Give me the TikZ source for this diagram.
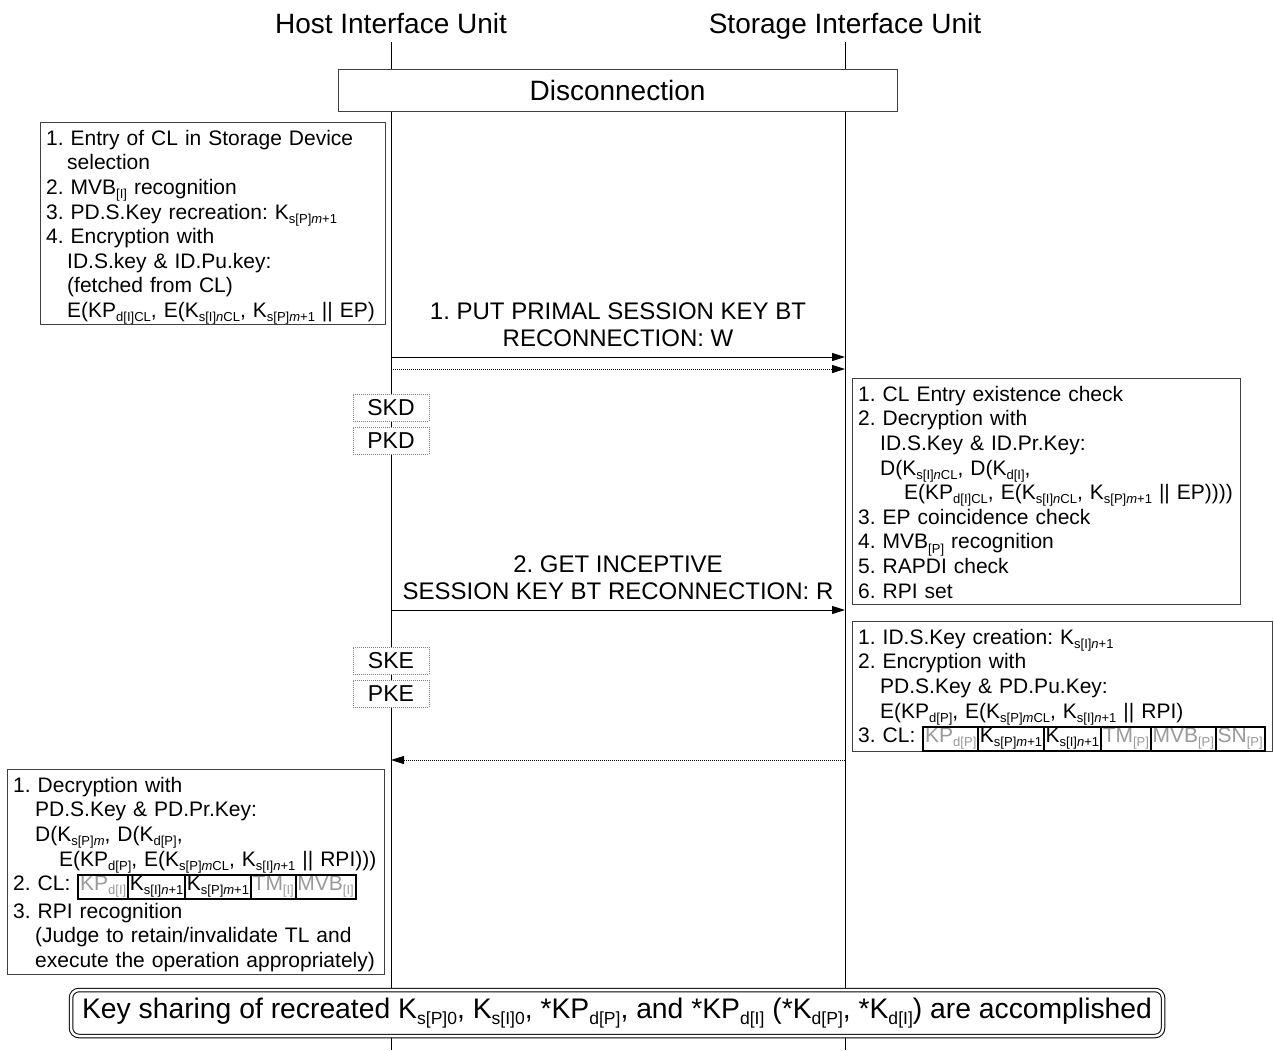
\documentclass[tikz,border=0pt]{standalone}
\usepackage{fontspec}
\setmainfont{Liberation Sans}
\usepackage{xcolor}
\definecolor{seqBorder}{HTML}{404040}
\definecolor{seqGray}{HTML}{9A9A9A}
\definecolor{seqDash}{HTML}{808080}
\usetikzlibrary{arrows.meta,positioning,calc}
\frenchspacing

\makeatletter
\newcommand{\sbs}[1]{{\@tempdima=0.62\dimexpr\f@size pt\relax
    \raisebox{-0.2em}{\fontsize{\strip@pt\@tempdima}{0}\selectfont #1}}}
\makeatother
\newcommand{\clcell}[1]{{\setlength{\fboxsep}{0pt}\setlength{\fboxrule}{2pt}%
    \fbox{\rule[-5pt]{0pt}{20pt}\hspace{0.8pt}#1\hspace{0.8pt}}}\hspace{-2pt}}
\newcommand{\gry}[1]{\textcolor{seqGray}{#1}}
\newcommand{\topln}{\rule{0pt}{23pt}}
\newcommand{\botln}{\rule[-6.5pt]{0pt}{6.5pt}}

\tikzset{
    unit/.style={
        font=\fontsize{28}{31}\selectfont,
        anchor=base,
        inner sep=0pt
    },
    phase/.style={
        draw=seqBorder,
        fill=white,
        minimum width=559pt,
        minimum height=42pt,
        font=\fontsize{28}{31}\selectfont
    },
    procbox/.style={
        draw=seqBorder,
        fill=white,
        align=left,
        anchor=north west,
        inner xsep=6pt,
        inner ysep=0pt,
        font=\fontsize{21}{24.6}\selectfont
    },
    keybox/.style={
        draw=seqDash,
        dash pattern=on 1pt off 1pt,
        fill=white,
        minimum width=76pt,
        minimum height=27pt,
        inner sep=0pt,
        font=\fontsize{23}{26}\selectfont
    },
    msg/.style={
        -{Triangle[length=13pt,width=8pt]},
        line width=1pt
    },
    msgdot/.style={
        msg,
        dash pattern=on 1pt off 1pt
    },
    msglabel/.style={
        align=center,
        inner sep=0pt,
        font=\fontsize{24}{27}\selectfont
    },
    result/.style={
        draw,
        double,
        double distance=2.5pt,
        line width=1pt,
        rounded corners=8pt,
        fill=white,
        minimum width=1092pt,
        minimum height=46pt,
        font=\fontsize{28.3}{31}\selectfont
    },
    lifeline/.style={
        line width=0.8pt
    }
}

\begin{document}
\begin{tikzpicture}[x=1pt, y=-1pt]
    \useasboundingbox (0,0) rectangle (1274,1050);

    % Units and lifelines
    \node[unit] (host) at (391,33) {Host Interface Unit};
    \node[unit] (stor) at (845,33) {Storage Interface Unit};
    \coordinate (hostTop) at (391,42);
    \coordinate (hostEnd) at (391,1050);
    \coordinate (storTop) at (845,42);
    \coordinate (storEnd) at (845,1050);
    \draw[lifeline] (hostTop) -- (hostEnd);
    \draw[lifeline] (storTop) -- (storEnd);

    % Phase
    \node[phase] (disc) at (617.5,90) {Disconnection};

    % Host side - before message 1
    \node[procbox, text width=333pt] (hostA) at (40,122) {%
        \topln 1. Entry of CL in Storage Device\\
        \hspace*{21pt}selection\\
        2. MVB\sbs{[I]} recognition\\
        3. PD.S.Key recreation: K\sbs{s[P]\textit{m}+1}\\
        4. Encryption with\\
        \hspace*{21pt}ID.S.key \& ID.Pu.key:\\
        \hspace*{21pt}(fetched from CL)\\
        \hspace*{21pt}\mbox{E(KP\sbs{d[I]CL}, E(K\sbs{s[I]\textit{n}CL}, K\sbs{s[P]\textit{m}+1} || EP)}\botln};

    % Message 1
    \node[msglabel] (lab1) at (618,325) {1. PUT PRIMAL SESSION KEY BT\\RECONNECTION: W};
    \coordinate (h1) at (391,357);
    \coordinate (s1) at (845,357);
    \coordinate (h1d) at (391,369);
    \coordinate (s1d) at (845,369);
    \draw[msg] (h1) -- (s1);
    \draw[msgdot] (h1d) -- (s1d);

    % Key blocks - decryption
    \node[keybox] (skd) at (391,407.5) {SKD};
    \node[keybox, below=6pt of skd] (pkd) {PKD};

    % Storage side - after message 1
    \node[procbox, text width=376pt] (storA) at (852,378) {%
        \topln 1. CL Entry existence check\\
        2. Decryption with\\
        \hspace*{22pt}ID.S.Key \& ID.Pr.Key:\\
        \hspace*{22pt}D(K\sbs{s[I]\textit{n}CL}, D(K\sbs{d[I]},\\
        \hspace*{46pt}\mbox{E(KP\sbs{d[I]CL}, E(K\sbs{s[I]\textit{n}CL}, K\sbs{s[P]\textit{m}+1} || EP))))}\\
        3. EP coincidence check\\
        4. MVB\sbs{[P]} recognition\\
        5. RAPDI check\\
        6. RPI set\botln};

    % Message 2
    \node[msglabel] (lab2) at (618,577.5) {2. GET INCEPTIVE\\SESSION KEY BT RECONNECTION: R};
    \coordinate (h2) at (391,610);
    \coordinate (s2) at (845,610);
    \draw[msg] (h2) -- (s2);

    % Key blocks - encryption
    \node[keybox] (ske) at (391,660.5) {SKE};
    \node[keybox, below=6pt of ske] (pke) {PKE};

    % Storage side - after message 2
    \node[procbox, text width=408pt] (storB) at (852,621) {%
        \topln 1. ID.S.Key creation: K\sbs{s[I]\textit{n}+1}\\
        2. Encryption with\\
        \hspace*{22pt}PD.S.Key \& PD.Pu.Key:\\
        \hspace*{22pt}\mbox{E(KP\sbs{d[P]}, E(K\sbs{s[P]\textit{m}CL}, K\sbs{s[I]\textit{n}+1} || RPI)}\\
        \mbox{3. CL: \clcell{\gry{KP\sbs{d[P]}}}\clcell{K\sbs{s[P]\textit{m}+1}}\clcell{K\sbs{s[I]\textit{n}+1}}\clcell{\gry{TM\sbs{[P]}}}\clcell{\gry{MVB\sbs{[P]}}}\clcell{\gry{SN\sbs{[P]}}}}};

    % Response
    \coordinate (s3) at (845,760);
    \coordinate (h3) at (391,760);
    \draw[msgdot] (s3) -- (h3);

    % Host side - after response
    \node[procbox, text width=365pt] (hostB) at (7,769) {%
        \topln 1. Decryption with\\
        \hspace*{22pt}PD.S.Key \& PD.Pr.Key:\\
        \hspace*{22pt}D(K\sbs{s[P]\textit{m}}, D(K\sbs{d[P]},\\
        \hspace*{46pt}\mbox{E(KP\sbs{d[P]}, E(K\sbs{s[P]\textit{m}CL}, K\sbs{s[I]\textit{n}+1} || RPI)))}\\
        \mbox{2. CL: \clcell{\gry{KP\sbs{d[I]}}}\clcell{K\sbs{s[I]\textit{n}+1}}\clcell{K\sbs{s[P]\textit{m}+1}}\clcell{\gry{TM\sbs{[I]}}}\clcell{\gry{MVB\sbs{[I]}}}}\\[3pt]
        3. RPI recognition\\
        \hspace*{22pt}(Judge to retain/invalidate TL and\\
        \hspace*{22pt}execute the operation appropriately)\botln};

    % Result
    \node[result] (done) at (617,1013) {Key sharing of recreated K\sbs{s[P]0}, K\sbs{s[I]0}, *KP\sbs{d[P]}, and *KP\sbs{d[I]} (*K\sbs{d[P]}, *K\sbs{d[I]}) are accomplished};
\end{tikzpicture}
\end{document}
